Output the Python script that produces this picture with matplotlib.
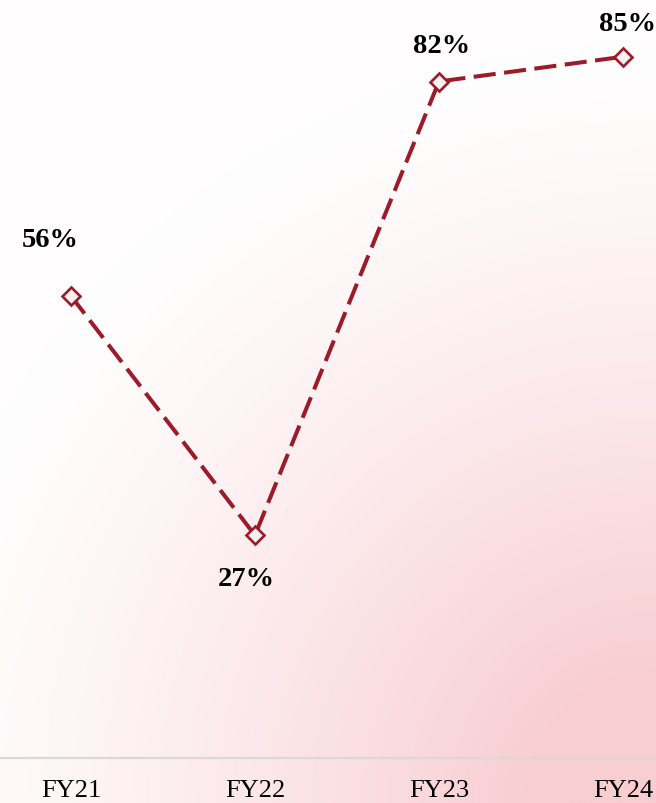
import numpy as np
import matplotlib
matplotlib.use("Agg")
import matplotlib.pyplot as plt

years = ["FY21", "FY22", "FY23", "FY24"]
values = [56, 27, 82, 85]
labels = ["56%", "27%", "82%", "85%"]

W, H = 656, 804
fig = plt.figure(figsize=(W / 100, H / 100), dpi=100)

# soft pink wash background, strongest at bottom right
bg = fig.add_axes([0, 0, 1, 1])
u, v = np.meshgrid(np.linspace(0, 1, 200), np.linspace(0, 1, 240))
d = np.sqrt(((1 - u) / 1.1) ** 2 + ((1 - v) / 0.9) ** 2)
s = np.clip(1.05 - d, 0, 1) ** 1.3
s = np.clip(s / 0.85, 0, 1)[..., None]
white = np.array([255, 254, 254]) / 255
pink = np.array([248, 206, 210]) / 255
bg.imshow(white * (1 - s) + pink * s, aspect="auto", extent=[0, 1, 0, 1],
          interpolation="bicubic")
bg.set_axis_off()

ax = fig.add_axes([0, 45 / H, 1, 759 / H])
ax.patch.set_alpha(0)
x = np.arange(len(years))
red = "#9b1b2a"
ax.plot(x, values, ls=(0, (5.5, 2.1)), lw=2.9, color=red, zorder=2)
ax.plot(x, values, ls="none", marker="D", ms=9, mfc="#f4f0f0", mec=red,
        mew=1.9, zorder=3)

offsets = [(-15, 41), (-6, -31), (2, 26), (3, 24)]
for xi, yi, lab, (dx, dy) in zip(x, values, labels, offsets):
    ax.annotate(lab, (xi, yi), xytext=(dx, dy), textcoords="offset points",
                ha="center", va="center", fontsize=20.5, fontweight="bold",
                family="Liberation Serif", color="black")

ax.set_xlim(-0.386, 3.18)
ax.set_ylim(0, 92)
ax.set_yticks([])
ax.set_xticks(x)
ax.set_xticklabels(years, family="Liberation Serif", fontsize=19)
ax.tick_params(axis="x", length=0, pad=15)
for sp in ["top", "right", "left"]:
    ax.spines[sp].set_visible(False)
ax.spines["bottom"].set_color("#d9d9d9")
ax.spines["bottom"].set_linewidth(1.6)

fig.savefig("out.png", dpi=100)
